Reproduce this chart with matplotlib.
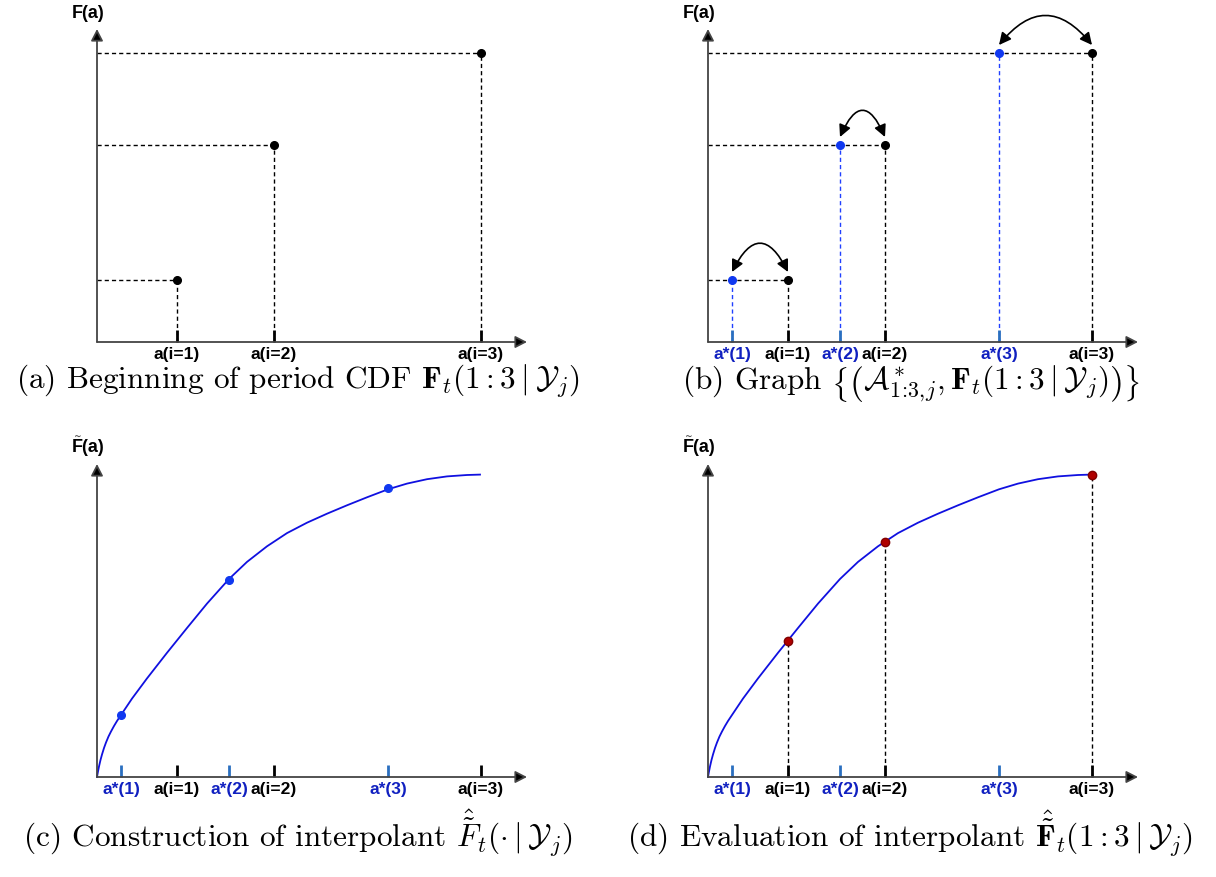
import matplotlib
matplotlib.use("Agg")
import matplotlib.pyplot as plt

plt.rcParams["mathtext.fontset"] = "cm"

# =========================
# data (1 unit = 100 px in the reference)
# =========================
a_vals = [0.80, 1.77, 3.84]          # a(i=1..3)
a_star = [0.24, 1.32, 2.91]          # a*(1..3)
F_vals = [0.62, 1.97, 2.89]          # F_t(1:3 | Y_j)
F_hat = [1.36, 2.35, 3.02]           # interpolant evaluated at a(i)

a_labels = ["a(i=1)", "a(i=2)", "a(i=3)"]
star_labels = ["a*(1)", "a*(2)", "a*(3)"]

# interpolant curve
curve_x = [0, 0.01, 0.02, 0.035, 0.05, 0.07, 0.09, 0.115, 0.14, 0.17, 0.20, 0.24,
           0.35, 0.50, 0.70, 0.90, 1.10, 1.32, 1.50, 1.70, 1.90, 2.10, 2.30,
           2.50, 2.70, 2.91, 3.10, 3.30, 3.50, 3.70, 3.83]
curve_y = [0, 0.055, 0.105, 0.17, 0.225, 0.29, 0.345, 0.405, 0.455, 0.51, 0.56, 0.62,
           0.784, 0.986, 1.242, 1.49, 1.734, 1.98, 2.151, 2.307, 2.439, 2.543, 2.633,
           2.717, 2.797, 2.877, 2.934, 2.978, 3.006, 3.02, 3.024]

captions = [
    r"(a) Beginning of period CDF $\mathbf{F}_t(1:3\mid\mathcal{Y}_j)$",
    r"(b) Graph $\left\{\left(\mathcal{A}^*_{1\!:\!3,\!j},\mathbf{F}_t(1:3\mid\mathcal{Y}_j)\right)\right\}$",
    r"(c) Construction of interpolant $\hat{\tilde{F}}_t(\cdot\mid\mathcal{Y}_j)$",
    r"(d) Evaluation of interpolant $\hat{\tilde{\mathbf{F}}}_t(1:3\mid\mathcal{Y}_j)$",
]

W, H = 1216, 878
fig = plt.figure(figsize=(W / 100, H / 100), dpi=100)

BLUE_TXT = "#1020c0"
BLUE_TICK = "#2a6fc0"
BLUE_DOT = "#1038f0"
LBL = dict(family="Liberation Sans", weight="bold", fontsize=12.5)


def make_axes(ox, oy):
    xmin, xmax, ymin, ymax = -0.5, 4.5, -0.5, 3.5
    rect = [(ox + xmin * 100) / W, (H - oy + ymin * 100) / H,
            (xmax - xmin) * 100 / W, (ymax - ymin) * 100 / H]
    ax = fig.add_axes(rect)
    ax.set_xlim(xmin, xmax)
    ax.set_ylim(ymin, ymax)
    ax.axis("off")
    # axes with arrow heads
    for end in [(4.30, 0), (0, 3.13)]:
        ax.annotate("", xy=end, xytext=(0, 0),
                    arrowprops=dict(arrowstyle="-|>,head_length=0.7,head_width=0.36",
                                    ec="#444444", fc="black", lw=1.3,
                                    mutation_scale=10, shrinkA=0, shrinkB=0))
    return ax


def ticks(ax, xs, labels, color, txt_color):
    for x, lab in zip(xs, labels):
        ax.plot([x, x], [0, 0.12], color=color, lw=2, solid_capstyle="butt")
        ax.text(x, -0.04, lab, ha="center", va="top", color=txt_color, **LBL)


def ylabel(ax, tilde=False):
    ax.text(-0.09, 3.30, "F(a)", ha="center", va="center",
            family="Liberation Sans", weight="bold", fontsize=13)
    if tilde:
        ax.text(-0.19, 3.415, "~", ha="center", va="center", color="#555555",
                family="DejaVu Sans", fontsize=6.5, weight="bold")


dash = dict(lw=1.0, dashes=(3, 2.2))

# =========================
# (a)
# =========================
ax = make_axes(97, 343)
for x, y in zip(a_vals, F_vals):
    ax.plot([0, x], [y, y], color="black", **dash)
    ax.plot([x, x], [0, y], color="black", **dash)
ticks(ax, a_vals, a_labels, "black", "black")
ax.plot(a_vals, F_vals, "o", color="black", ms=5.5, ls="none", zorder=5)
ylabel(ax)

# =========================
# (b)
# =========================
ax = make_axes(708, 343)
for x, xs, y in zip(a_vals, a_star, F_vals):
    ax.plot([0, x], [y, y], color="black", **dash)
    ax.plot([x, x], [0, y], color="black", **dash)
    ax.plot([xs, xs], [0, y], color="#2040ff", **dash)
ticks(ax, a_star, star_labels, BLUE_TICK, BLUE_TXT)
ticks(ax, a_vals, a_labels, "black", "black")
ax.plot(a_vals, F_vals, "o", color="black", ms=5.5, ls="none", zorder=5)
ax.plot(a_star, F_vals, "o", color=BLUE_DOT, ms=5.5, ls="none", zorder=5)
for x, xs, y, rad in zip(a_vals, a_star, F_vals, [1.0, 1.15, 0.62]):
    ax.annotate("", xy=(xs, y + 0.08), xytext=(x, y + 0.08),
                arrowprops=dict(arrowstyle="<|-|>,head_length=0.6,head_width=0.3",
                                color="black", lw=1.2, mutation_scale=12,
                                shrinkA=0, shrinkB=0,
                                connectionstyle=f"arc3,rad={rad}"))
ylabel(ax)

# =========================
# (c)
# =========================
ax = make_axes(97, 778)
ax.plot(curve_x, curve_y, color="#1010e0", lw=1.3)
ticks(ax, a_star, star_labels, BLUE_TICK, BLUE_TXT)
ticks(ax, a_vals, a_labels, "black", "black")
ax.plot(a_star, F_vals, "o", color=BLUE_DOT, ms=5.5, ls="none", zorder=5)
ylabel(ax, tilde=True)

# =========================
# (d)
# =========================
ax = make_axes(708, 778)
ax.plot(curve_x, curve_y, color="#1010e0", lw=1.3)
for x, y in zip(a_vals, F_hat):
    ax.plot([x, x], [0, y], color="black", **dash)
ticks(ax, a_star, star_labels, BLUE_TICK, BLUE_TXT)
ticks(ax, a_vals, a_labels, "black", "black")
ax.plot(a_vals, F_hat, "o", color="#b00000", mec="#800000", ms=6, ls="none", zorder=5)
ylabel(ax, tilde=True)

# =========================
# captions
# =========================
for (cx, cy), cap in zip([(298, 389), (911, 389), (298, 847), (910, 847)], captions):
    fig.text(cx / W, 1 - cy / H, cap, ha="center", va="baseline",
             family="cmr10", fontsize=22.5)

fig.savefig("out.png", dpi=100)
